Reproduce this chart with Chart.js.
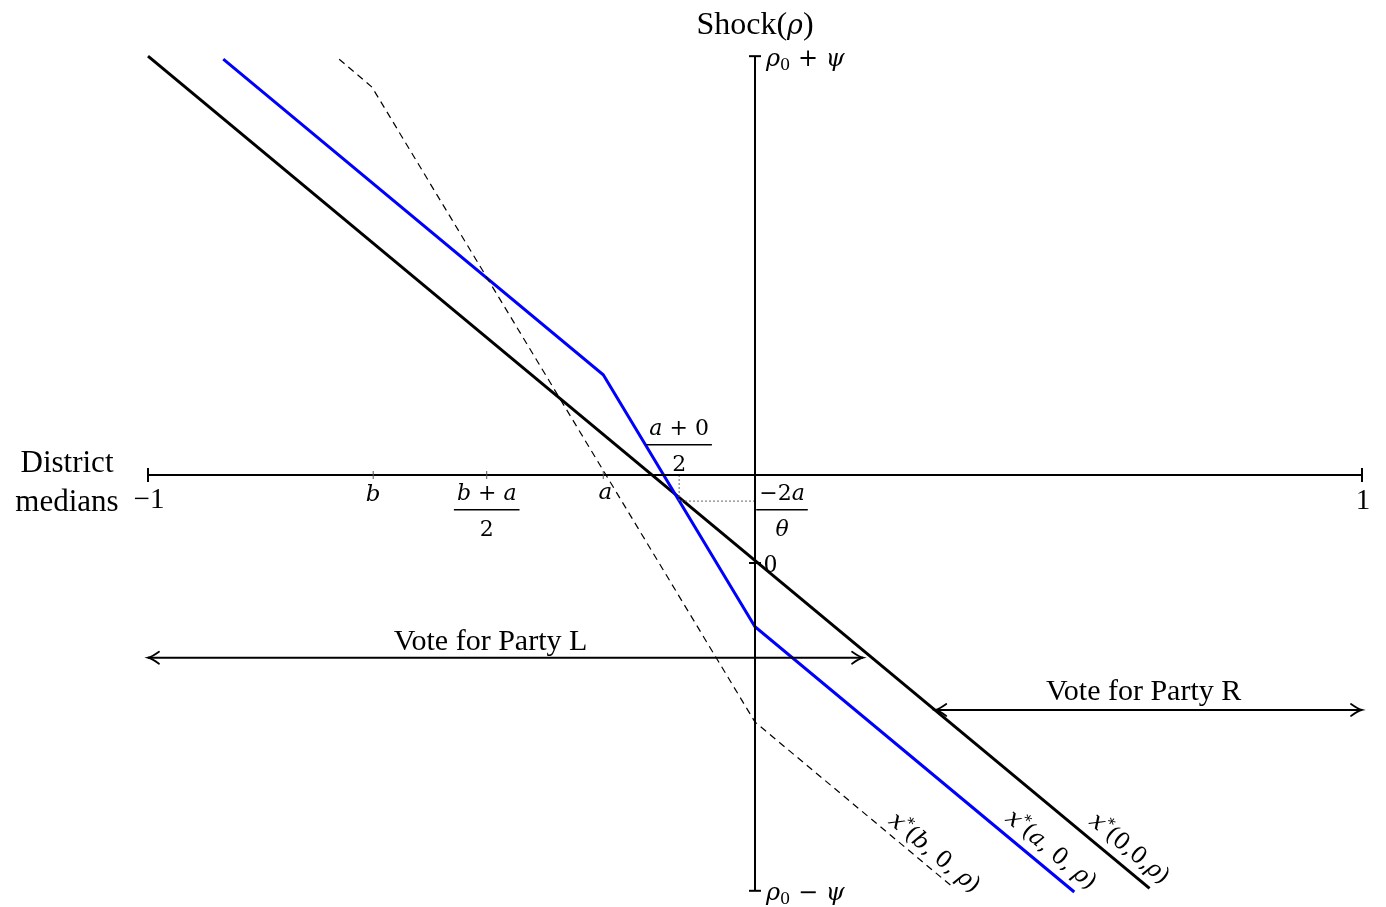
<!DOCTYPE html>
<html>
<head>
<meta charset="utf-8">
<script src="https://cdn.jsdelivr.net/npm/chart.js@4.4.1/dist/chart.umd.min.js"></script>
<style>
  html, body { margin: 0; padding: 0; background: #fff; }
  #wrap { width: 1386px; height: 907px; position: relative; }
</style>
</head>
<body>
<div id="wrap"><canvas id="chart"></canvas></div>
<script>
// cutoff curves x*(., 0, rho): district median (x) vs shock (y)
const curve00X = [-1, 0.65];
const curve00Y = [0.69, -0.681];
const curveA0X = [-0.876, -0.25, 0, 0.526];
const curveA0Y = [0.685, 0.165, -0.25, -0.687];
const curveB0X = [-0.685, -0.631, 0, 0.326];
const curveB0Y = [0.685, 0.639, -0.407, -0.679];

// axes
const axisX = [-1, 1];
const shockTop = 0.69;
const shockBottom = -0.685;
const shockZero = -0.145;

// marked district medians: b, (b+a)/2, a
const medianTicks = [-0.629, -0.442, -0.25];
const kinkX = -0.125;
const kinkY = -0.043;

// vote regions
const voteLX = [-1, 0.178];
const voteLY = -0.301;
const voteRX = [0.297, 1];
const voteRY = -0.387;

const pts = (xs, ys) => xs.map((x, i) => ({ x: x, y: Array.isArray(ys) ? ys[i] : ys }));

const SERIF = '"Liberation Serif", serif';
const MATH = '"DejaVu Serif", serif';
const I = (s) => 'italic ' + s + 'px ' + MATH;
const U = (s) => s + 'px ' + MATH;

function rich(ctx, segs, x, y, align) {
    let w = 0;
    segs.forEach(s => { ctx.font = s.f; s.w = ctx.measureText(s.t).width; w += s.w; });
    let cx = align === 'center' ? x - w / 2 : (align === 'right' ? x - w : x);
    ctx.textAlign = 'left';
    ctx.textBaseline = 'alphabetic';
    segs.forEach(s => {
        ctx.font = s.f;
        ctx.fillText(s.t, cx, y + (s.dy || 0));
        cx += s.w;
    });
    return w;
}

function frac(ctx, num, den, x, y) {
    const w = rich(ctx, num, x, y, 'center');
    ctx.fillRect(x - w / 2 - 3, y + 9, w + 6, 1.5);
    rich(ctx, den, x, y + 36, 'center');
}

function arrowHead(ctx, x, y, dir) {
    ctx.save();
    ctx.translate(x, y);
    ctx.scale(dir, 1);
    ctx.lineWidth = 1.8;
    ctx.lineCap = 'round';
    ctx.beginPath();
    ctx.moveTo(-11, -6);
    ctx.quadraticCurveTo(-4, -1, 0, 0);
    ctx.quadraticCurveTo(-4, 1, -11, 6);
    ctx.stroke();
    ctx.restore();
}

const annotations = {
    id: 'annotations',
    afterDraw(chart) {
        const ctx = chart.ctx;
        const sx = chart.scales.x, sy = chart.scales.y;
        const px = v => sx.getPixelForValue(v);
        const py = v => sy.getPixelForValue(v);
        ctx.save();
        ctx.fillStyle = '#000';
        ctx.strokeStyle = '#000';

        // end ticks on the median axis
        ctx.lineWidth = 2;
        [axisX[0], axisX[1]].forEach(v => {
            ctx.beginPath();
            ctx.moveTo(px(v), py(0) - 7);
            ctx.lineTo(px(v), py(0) + 7);
            ctx.stroke();
        });
        // shock axis ticks
        [shockTop, shockBottom, shockZero].forEach(v => {
            ctx.beginPath();
            ctx.moveTo(px(0) - 6, py(v));
            ctx.lineTo(px(0) + 6, py(v));
            ctx.stroke();
        });
        ctx.lineWidth = 1;
        ctx.strokeStyle = '#555';
        medianTicks.forEach(v => {
            ctx.beginPath();
            ctx.moveTo(px(v), py(0) - 4);
            ctx.lineTo(px(v), py(0) + 4);
            ctx.stroke();
        });

        // arrowheads
        ctx.strokeStyle = '#000';
        arrowHead(ctx, px(voteLX[0]), py(voteLY), -1);
        arrowHead(ctx, px(voteLX[1]), py(voteLY), 1);
        arrowHead(ctx, px(voteRX[0]), py(voteRY), -1);
        arrowHead(ctx, px(voteRX[1]), py(voteRY), 1);

        // axis titles
        rich(ctx, [{ t: 'Shock', f: '32px ' + SERIF }, { t: '(', f: '32px ' + SERIF }, { t: 'ρ', f: I(27) }, { t: ')', f: '32px ' + SERIF }], px(0), py(shockTop) - 22, 'center');
        ctx.font = '31px ' + SERIF;
        ctx.textAlign = 'center';
        ctx.fillText('District', 67, py(0) - 3);
        ctx.fillText('medians', 67, py(0) + 36);

        // shock axis labels
        rich(ctx, [{ t: 'ρ', f: I(24) }, { t: '0', f: U(16), dy: 4 }, { t: ' + ', f: U(24) }, { t: 'ψ', f: I(24) }], px(0) + 11, py(shockTop) + 10, 'left');
        rich(ctx, [{ t: 'ρ', f: I(24) }, { t: '0', f: U(16), dy: 4 }, { t: ' − ', f: U(24) }, { t: 'ψ', f: I(24) }], px(0) + 11, py(shockBottom) + 9, 'left');
        rich(ctx, [{ t: '0', f: '26px ' + SERIF }], px(0) + 9, py(shockZero) + 9, 'left');

        // median axis labels
        rich(ctx, [{ t: '−1', f: '29px ' + SERIF }], px(-1) + 1, py(0) + 33, 'center');
        rich(ctx, [{ t: '1', f: '29px ' + SERIF }], px(1) + 1, py(0) + 34, 'center');
        rich(ctx, [{ t: 'b', f: I(23) }], px(medianTicks[0]), py(0) + 26, 'center');
        frac(ctx, [{ t: 'b', f: I(22) }, { t: ' + ', f: U(22) }, { t: 'a', f: I(22) }], [{ t: '2', f: U(22) }], px(medianTicks[1]), py(0) + 25);
        rich(ctx, [{ t: 'a', f: I(23) }], px(medianTicks[2]) + 2, py(0) + 24, 'center');
        frac(ctx, [{ t: 'a', f: I(22) }, { t: ' + 0', f: U(22) }], [{ t: '2', f: U(22) }], px(kinkX), py(0) - 40);
        frac(ctx, [{ t: '−2', f: U(22) }, { t: 'a', f: I(22) }], [{ t: 'θ', f: I(22) }], px(0) + 27, py(0) + 25);

        // vote regions
        rich(ctx, [{ t: 'Vote for Party L', f: '30px ' + SERIF }], (px(voteLX[0]) + px(voteLX[1])) / 2 - 15, py(voteLY) - 8, 'center');
        rich(ctx, [{ t: 'Vote for Party R', f: '30px ' + SERIF }], (px(voteRX[0]) + px(voteRX[1])) / 2 - 5, py(voteRY) - 10, 'center');

        // curve labels, rotated along the lines
        const ang = Math.atan2(py(curve00Y[1]) - py(curve00Y[0]), px(curve00X[1]) - px(curve00X[0]));
        const curveLabels = [
            { x: 0.297, y: -0.621, arg: 'b' },
            { x: 0.489, y: -0.616, arg: 'a' },
            { x: 0.618, y: -0.614, arg: '0' }
        ];
        curveLabels.forEach(l => {
            ctx.save();
            ctx.translate(px(l.x), py(l.y));
            ctx.rotate(ang);
            const argFont = l.arg === '0' ? U(23) : I(23);
            rich(ctx, [
                { t: 'x', f: I(24) }, { t: '*', f: U(15), dy: -9 },
                { t: '(', f: U(23) }, { t: l.arg, f: argFont },
                { t: l.arg === '0' ? ',0,' : ', 0, ', f: U(23) }, { t: 'ρ', f: I(23) }, { t: ')', f: U(23) }
            ], 0, 8, 'center');
            ctx.restore();
        });
        ctx.restore();
    }
};

const line = (data, color, width, dash) => ({
    data: data,
    showLine: true,
    borderColor: color,
    borderWidth: width,
    borderDash: dash || [],
    pointRadius: 0,
    fill: false,
    tension: 0
});

new Chart(document.getElementById('chart').getContext('2d'), {
    type: 'scatter',
    data: {
        datasets: [
            line(pts(axisX, 0), '#000', 2),
            line(pts([0, 0], [shockTop, shockBottom]), '#000', 2),
            line(pts([kinkX, kinkX, 0], [0, kinkY, kinkY]), '#666', 1, [2, 2]),
            line(pts(voteLX, voteLY), '#000', 2),
            line(pts(voteRX, voteRY), '#000', 2),
            line(pts(curveB0X, curveB0Y), '#000', 1.2, [7, 5]),
            line(pts(curveA0X, curveA0Y), '#0000ff', 3),
            line(pts(curve00X, curve00Y), '#000', 3)
        ]
    },
    options: {
        responsive: true,
        maintainAspectRatio: false,
        animation: false,
        layout: { padding: 0 },
        plugins: { legend: { display: false }, tooltip: { enabled: false } },
        scales: {
            x: { type: 'linear', display: false, min: -1 - 148 / 607, max: 1 + 24 / 607 },
            y: { type: 'linear', display: false, min: -432 / 607, max: 475 / 607 }
        }
    },
    plugins: [annotations]
});
</script>
</body>
</html>
